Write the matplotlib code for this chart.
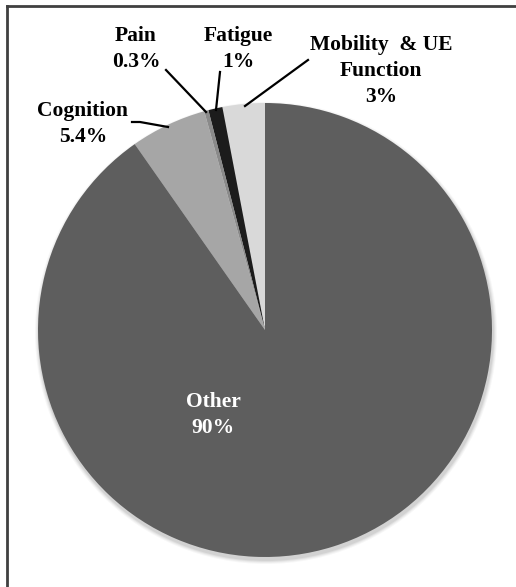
import matplotlib
matplotlib.use("Agg")
import matplotlib.pyplot as plt
from matplotlib.patches import Circle
from matplotlib.lines import Line2D

categories = ["Mobility  & UE\nFunction", "Fatigue", "Pain", "Cognition", "Other"]
values = [3.0, 1.0, 0.3, 5.4, 90.0]
pct_labels = ["3%", "1%", "0.3%", "5.4%", "90%"]
colors = ["#d9d9d9", "#1c1c1c", "#8a8a8a", "#a6a6a6", "#5e5e5e"]

W, H = 516, 587
fig = plt.figure(figsize=(W / 100, H / 100), dpi=100)
ax = fig.add_axes([0, 0, 1, 1])

def Y(y):
    return H - y

cx, cy, r = 265, Y(330), 227

# soft shadow
for i, a in enumerate([0.03, 0.04, 0.05, 0.06]):
    ax.add_patch(Circle((cx + 1, cy - 3), r + 4 - i, color="black", alpha=a, lw=0, zorder=0))

ax.pie(values, colors=colors, startangle=90, counterclock=True,
       center=(cx, cy), radius=r, frame=True,
       wedgeprops=dict(linewidth=0, antialiased=True))
ax.set_xlim(0, W)
ax.set_ylim(0, H)
ax.set_aspect("equal")
ax.axis("off")

font = dict(family="Liberation Serif", weight="bold", size=15.5)

labels = [f"{c}\n{p}" for c, p in zip(categories, pct_labels)]
label_pos = [(381, 71), (238, 49), (136, 49), (83, 124), (213, 415)]
for i, (lab, (x, y)) in enumerate(zip(labels, label_pos)):
    ax.text(x, Y(y), lab, ha="center", va="center", linespacing=1.4,
            color="white" if i == 4 else "black", **font)

# leader lines
leaders = [
    [(308, 60), (245, 106)],
    [(220, 72), (216, 110)],
    [(166, 70), (206, 112)],
    [(132, 122), (140, 122), (168, 127)],
]
for pts in leaders:
    xs = [p[0] for p in pts]
    ys = [Y(p[1]) for p in pts]
    ax.add_line(Line2D(xs, ys, color="black", lw=1.6))

# frame (left and top edges)
ax.add_line(Line2D([7, 7], [Y(6), Y(H + 5)], color="#404040", lw=2))
ax.add_line(Line2D([7, W + 5], [Y(6), Y(6)], color="#404040", lw=2))

fig.savefig("out.png", dpi=100)
